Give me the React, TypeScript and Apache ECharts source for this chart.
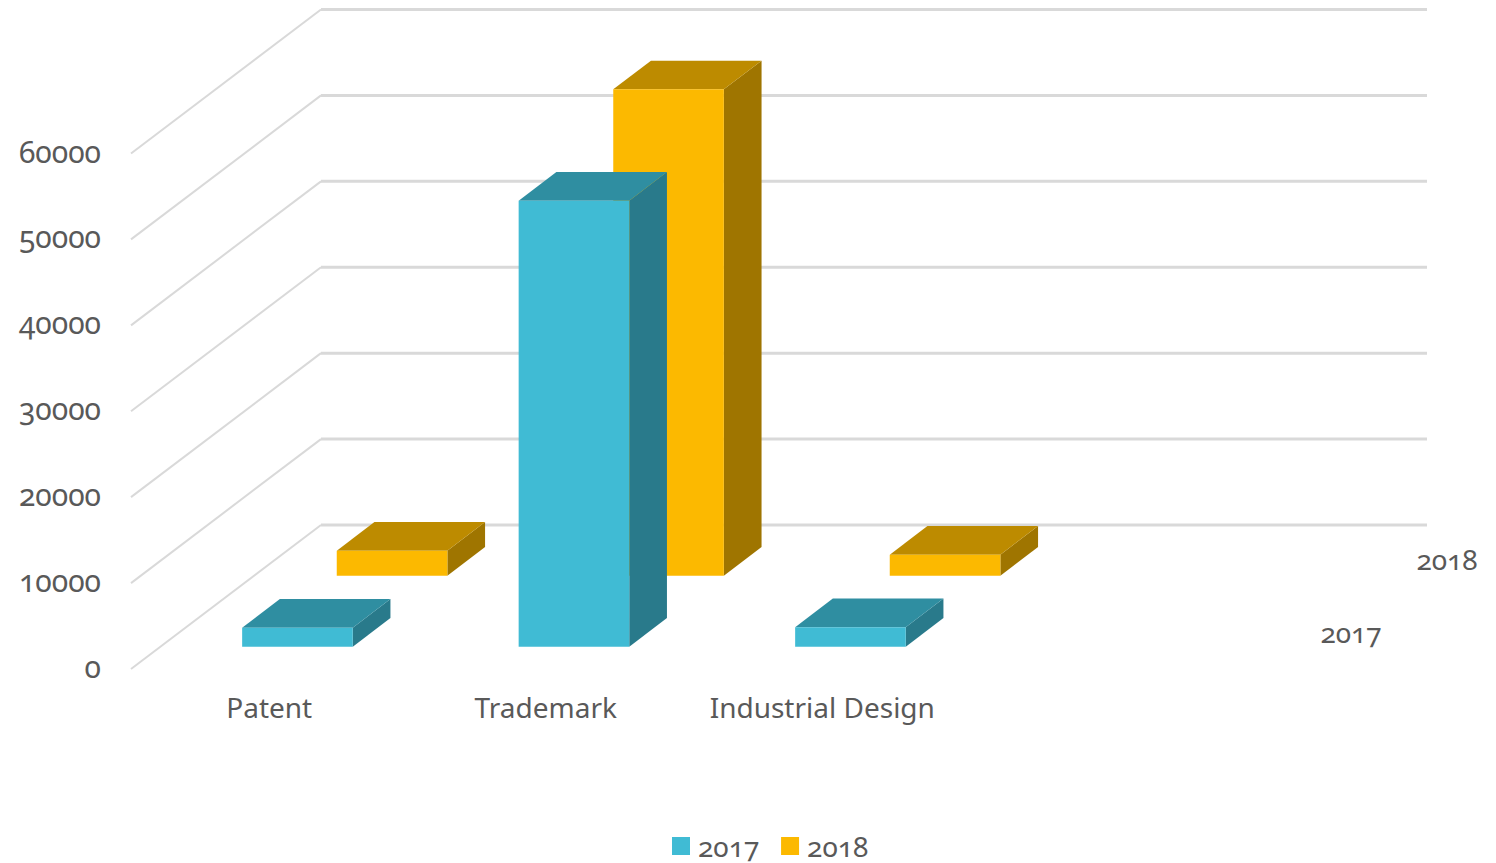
import React, { useEffect, useRef } from "react";
import * as echarts from "echarts";

const categories = ["Patent", "Trademark", "Industrial Design", ""];
const seriesNames = ["2017", "2018"];
const values2017 = [2210, 51910, 2260];
const values2018 = [2910, 56610, 2440];
const yTicks = [0, 10000, 20000, 30000, 40000, 50000, 60000];

const TEXT = "#595959";
const FONT = "'Noto Sans', sans-serif";

// Oblique projection of the chart box: how far the back wall sits from the front plane.
const WALL_DX = 190;
const WALL_DY = -144;
// Size of a column's receding faces and its front face as a share of a category band.
const BAR_DX = 37.7;
const BAR_DY = -28.7;
const BAR_W = 0.4;

const palette2017 = { front: "#40BBD4", top: "#2F8EA1", side: "#297A8B" };
const palette2018 = { front: "#FCB900", top: "#BD8B00", side: "#9F7500" };

// Draws one column as front, top and side polygons, pushed back along the depth axis.
function columnRenderer(colors: typeof palette2017, rowDx: number, rowDy: number) {
  return (_params: any, api: any) => {
    const cat = api.value(0);
    const top = api.coord([cat, api.value(1)]);
    const base = api.coord([cat, 0]);
    const w = api.size([1, 0])[0] * BAR_W;
    const x0 = top[0] + rowDx - w / 2;
    const x1 = x0 + w;
    const yT = top[1] + rowDy;
    const yB = base[1] + rowDy;
    const poly = (points: number[][], fill: string) => ({
      type: "polygon",
      shape: { points },
      style: { fill },
    });
    return {
      type: "group",
      children: [
        poly([[x1, yT], [x1 + BAR_DX, yT + BAR_DY], [x1 + BAR_DX, yB + BAR_DY], [x1, yB]], colors.side),
        poly([[x0, yT], [x0 + BAR_DX, yT + BAR_DY], [x1 + BAR_DX, yT + BAR_DY], [x1, yT]], colors.top),
        poly([[x0, yT], [x1, yT], [x1, yB], [x0, yB]], colors.front),
      ],
    };
  };
}

// Side-wall and back-wall gridlines for one value tick.
function wallRenderer(params: any, api: any) {
  const p = api.coord([0, api.value(0)]);
  const cs = params.coordSys;
  const backX = cs.x + WALL_DX;
  const backY = p[1] + WALL_DY;
  return {
    type: "group",
    children: [
      {
        type: "line",
        shape: { x1: cs.x, y1: p[1], x2: backX, y2: backY },
        style: { stroke: "#D9D9D9", lineWidth: 2 },
      },
      {
        type: "line",
        shape: { x1: backX, y1: backY, x2: backX + cs.width, y2: backY },
        style: { stroke: "#D9D9D9", lineWidth: 3 },
      },
    ],
  };
}

export default function App() {
  const ref = useRef<HTMLDivElement>(null);

  useEffect(() => {
    document.body.style.margin = "0";
    const css = document.createElement("style");
    css.textContent = `#root svg text { font-variant-numeric: oldstyle-nums !important; font-feature-settings: "onum" 1 !important; }`;
    document.head.appendChild(css);

    const chart = echarts.init(ref.current!, null, { renderer: "svg" });
    chart.setOption({
      animation: false,
      color: [palette2017.front, palette2018.front],
      grid: { left: 131, top: 153.5, width: 1106, height: 515.5 },
      xAxis: {
        type: "category",
        data: categories,
        axisLine: { show: false },
        axisTick: { show: false },
        axisLabel: { color: TEXT, fontFamily: FONT, fontSize: 28, margin: 24, interval: 0 },
      },
      yAxis: {
        type: "value",
        min: 0,
        max: 60000,
        interval: 10000,
        axisLine: { show: false },
        axisTick: { show: false },
        splitLine: { show: false },
        axisLabel: {
          color: TEXT,
          fontFamily: FONT,
          fontSize: 30,
          margin: 30,
          verticalAlign: "bottom",
          lineHeight: 5,
          formatter: (v: number) => String(v),
        },
      },
      legend: {
        data: seriesNames,
        left: 672,
        top: 832,
        padding: 0,
        itemWidth: 18,
        itemHeight: 18,
        itemGap: 19,
        icon: "rect",
        textStyle: { color: TEXT, fontFamily: FONT, fontSize: 28, lineHeight: 28, padding: [0, 0, 0, 3] },
      },
      graphic: [
        { type: "text", x: 1351, y: 632, style: { text: seriesNames[0], fill: TEXT, font: `28px ${FONT}`, align: "center", verticalAlign: "middle" } },
        { type: "text", x: 1447, y: 559, style: { text: seriesNames[1], fill: TEXT, font: `28px ${FONT}`, align: "center", verticalAlign: "middle" } },
      ],
      series: [
        {
          name: "walls",
          type: "custom",
          renderItem: wallRenderer,
          data: yTicks.map((t) => [t]),
          encode: { y: 0 },
          silent: true,
          z: 1,
        },
        {
          name: seriesNames[1],
          type: "custom",
          renderItem: columnRenderer(palette2018, 122.8, -93.3),
          data: values2018.map((v, i) => [i, v]),
          encode: { x: 0, y: 1 },
          itemStyle: { color: palette2018.front },
          z: 2,
        },
        {
          name: seriesNames[0],
          type: "custom",
          renderItem: columnRenderer(palette2017, 28.2, -22.3),
          data: values2017.map((v, i) => [i, v]),
          encode: { x: 0, y: 1 },
          itemStyle: { color: palette2017.front },
          z: 3,
        },
      ],
    });
    return () => {
      chart.dispose();
      css.remove();
    };
  }, []);

  return <div ref={ref} style={{ width: 1496, height: 863 }} />;
}
